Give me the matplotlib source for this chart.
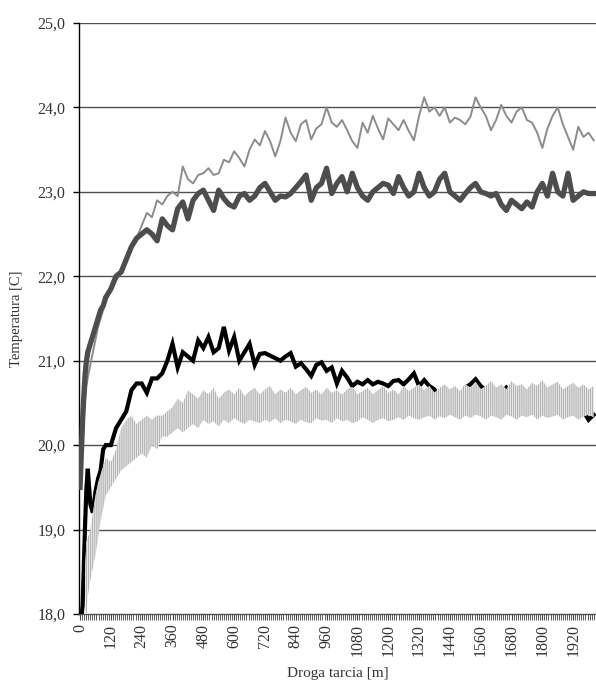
import numpy as np
import matplotlib
matplotlib.use('Agg')
import matplotlib.pyplot as plt
from matplotlib.ticker import FixedLocator, FuncFormatter

plt.rcParams['font.family'] = ['Liberation Serif', 'DejaVu Serif']
plt.rcParams['hatch.linewidth'] = 1.0

# droga tarcia [m]
droga = [0, 5, 10, 15, 20, 25, 30, 40, 50, 60, 70, 80, 90, 100,
         120, 140, 160, 180, 200, 220, 240, 260, 280, 300, 320, 340, 360, 380,
         400, 420, 440, 460, 480, 500, 520, 540, 560, 580, 600, 620, 640, 660,
         680, 700, 720, 740, 760, 780, 800, 820, 840, 860, 880, 900, 920, 940,
         960, 980, 1000, 1020, 1040, 1060, 1080, 1100, 1120, 1140, 1160, 1180,
         1200, 1220, 1240, 1260, 1280, 1300, 1320, 1340, 1360, 1380, 1400, 1420,
         1440, 1460, 1480, 1500, 1520, 1540, 1560, 1580, 1600, 1620, 1640, 1660,
         1680, 1700, 1720, 1740, 1760, 1780, 1800, 1820, 1840, 1860, 1880, 1900,
         1920, 1940, 1960, 1980, 2000]

# seria jasnoszara (najwyzsza)
temp_a = [19.5, 19.8, 20.1, 20.35, 20.55, 20.7, 20.8, 20.95, 21.1, 21.25, 21.4, 21.5, 21.6, 21.7,
          21.85, 21.95, 22.05, 22.2, 22.35, 22.45, 22.6, 22.75, 22.7, 22.9, 22.85, 22.95, 23.0, 22.95,
          23.3, 23.15, 23.1, 23.2, 23.22, 23.28, 23.2, 23.22, 23.38, 23.35, 23.48, 23.4, 23.3, 23.5,
          23.62, 23.55, 23.72, 23.6, 23.42, 23.6, 23.88, 23.7, 23.6, 23.8, 23.85, 23.62, 23.75, 23.8,
          24.0, 23.82, 23.77, 23.85, 23.73, 23.6, 23.52, 23.82, 23.7, 23.9, 23.75, 23.62,
          23.87, 23.8, 23.73, 23.85, 23.72, 23.61, 23.9, 24.12, 23.95, 24.0, 23.9, 24.0,
          23.82, 23.88, 23.85, 23.8, 23.89, 24.12, 24.0, 23.9, 23.73, 23.85, 24.03, 23.9,
          23.82, 23.95, 24.0, 23.85, 23.82, 23.7, 23.52, 23.75, 23.9, 24.0, 23.8, 23.65,
          23.5, 23.77, 23.65, 23.7, 23.61]

# seria ciemnoszara
temp_b = [19.5, 19.9, 20.3, 20.6, 20.85, 21.0, 21.1, 21.2, 21.3, 21.4, 21.5, 21.6, 21.65, 21.75,
          21.85, 22.0, 22.05, 22.2, 22.35, 22.45, 22.5, 22.55, 22.5, 22.42, 22.68, 22.6, 22.55, 22.8,
          22.88, 22.68, 22.9, 22.98, 23.02, 22.9, 22.78, 23.02, 22.92, 22.85, 22.82, 22.95, 22.98, 22.9,
          22.95, 23.05, 23.1, 23.0, 22.9, 22.95, 22.94, 22.98, 23.05, 23.12, 23.2, 22.9, 23.05, 23.1,
          23.28, 22.98, 23.1, 23.18, 23.0, 23.22, 23.05, 22.95, 22.9, 23.0, 23.05, 23.1,
          23.08, 22.98, 23.18, 23.05, 22.95, 23.0, 23.22, 23.05, 22.95, 23.0, 23.15, 23.22,
          23.0, 22.95, 22.9, 22.98, 23.05, 23.1, 23.0, 22.98, 22.95, 22.98, 22.85, 22.78,
          22.9, 22.85, 22.8, 22.88, 22.82, 23.0, 23.1, 22.95, 23.22, 23.0, 22.95, 23.22,
          22.9, 22.95, 23.0, 22.98, 22.98]

# seria czarna
temp_c = [17.9, 17.95, 18.1, 18.6, 19.1, 19.5, 19.72, 19.3, 19.2, 19.45, 19.6, 19.7, 19.95, 20.0,
          20.0, 20.2, 20.3, 20.4, 20.65, 20.73, 20.73, 20.62, 20.79, 20.79, 20.85, 21.0, 21.2, 20.92,
          21.1, 21.05, 21.0, 21.24, 21.15, 21.28, 21.1, 21.15, 21.4, 21.12, 21.28, 21.0, 21.1, 21.2,
          20.95, 21.08, 21.09, 21.06, 21.03, 21.0, 21.05, 21.09, 20.93, 20.97, 20.9, 20.82, 20.95, 20.98,
          20.88, 20.92, 20.73, 20.88, 20.8, 20.7, 20.75, 20.72, 20.77, 20.72, 20.75, 20.73,
          20.7, 20.76, 20.77, 20.72, 20.78, 20.85, 20.7, 20.77, 20.7, 20.66, 20.55, 20.5,
          20.45, 20.42, 20.55, 20.68, 20.72, 20.78, 20.7, 20.65, 20.55, 20.42, 20.6, 20.68,
          20.62, 20.65, 20.55, 20.5, 20.58, 20.52, 20.45, 20.5, 20.42, 20.44, 20.4, 20.4,
          20.38, 20.38, 20.4, 20.3, 20.36]

# seria najjasniejsza (pasmo) - dolna i gorna obwiednia
temp_d_min = [np.nan, np.nan, np.nan, np.nan, 17.95, 17.95, 18.2, 18.4, 18.55, 18.7, 18.9, 19.1, 19.25, 19.4,
              19.5, 19.6, 19.7, 19.75, 19.8, 19.85, 19.9, 19.85, 20.0, 19.95, 20.1, 20.1, 20.15, 20.2,
              20.15, 20.2, 20.25, 20.2, 20.3, 20.25, 20.28, 20.22, 20.3, 20.26, 20.32, 20.28, 20.25, 20.3,
              20.28, 20.26, 20.3, 20.27, 20.32, 20.26, 20.3, 20.28, 20.25, 20.3, 20.27, 20.26, 20.32, 20.29,
              20.3, 20.26, 20.32, 20.28, 20.3, 20.26, 20.28, 20.33, 20.3, 20.26, 20.3, 20.32,
              20.28, 20.3, 20.33, 20.3, 20.35, 20.32, 20.3, 20.33, 20.35, 20.3, 20.34, 20.32,
              20.36, 20.33, 20.3, 20.35, 20.32, 20.36, 20.34, 20.3, 20.35, 20.33, 20.3, 20.36,
              20.34, 20.3, 20.35, 20.33, 20.36, 20.3, 20.35, 20.32, 20.34, 20.36, 20.3, 20.33,
              20.35, 20.3, 20.34, 20.36, 20.33]
temp_d_max = [np.nan, np.nan, np.nan, np.nan, 18.6, 18.85, 18.9, 19.0, 19.2, 19.4, 19.55, 19.65, 19.75, 19.85,
              19.8, 19.95, 20.2, 20.3, 20.35, 20.25, 20.3, 20.35, 20.3, 20.35, 20.35, 20.4, 20.45, 20.55,
              20.5, 20.65, 20.6, 20.55, 20.65, 20.6, 20.68, 20.55, 20.62, 20.66, 20.6, 20.68, 20.58, 20.64,
              20.68, 20.6, 20.66, 20.7, 20.6, 20.66, 20.62, 20.68, 20.6, 20.65, 20.69, 20.62, 20.66, 20.6,
              20.68, 20.62, 20.65, 20.6, 20.66, 20.69, 20.6, 20.64, 20.68, 20.6, 20.65, 20.7,
              20.62, 20.66, 20.6, 20.7, 20.64, 20.68, 20.72, 20.65, 20.7, 20.62, 20.68, 20.72,
              20.66, 20.7, 20.64, 20.72, 20.68, 20.75, 20.66, 20.7, 20.76, 20.68, 20.72, 20.66,
              20.76, 20.7, 20.72, 20.66, 20.74, 20.7, 20.77, 20.68, 20.72, 20.75, 20.66, 20.7,
              20.74, 20.68, 20.72, 20.66, 20.7]

x_ticks = [0, 120, 240, 360, 480, 600, 720, 840, 960, 1080, 1200, 1320, 1440, 1560, 1680, 1800, 1920]
y_ticks = [18, 19, 20, 21, 22, 23, 24, 25]

fig = plt.figure(figsize=(5.96, 6.86), dpi=100)
ax = fig.add_axes([0.1326, 0.105, 0.8674, 0.8615])

ax.plot(droga, temp_a, color='#8c8c8c', lw=1.4, zorder=3)
ax.plot(droga, temp_b, color='#4d4d4d', lw=3.8, zorder=4)
ax.plot(droga, temp_c, color='black', lw=3.0, zorder=5, solid_joinstyle='miter')
ax.fill_between(droga, temp_d_min, temp_d_max, facecolor='white', edgecolor='#b4b4b4',
                hatch='||||||||', lw=0, zorder=6)

ax.set_xlim(-4, 2009)
ax.set_ylim(18, 25)

# siatka pozioma
for v in y_ticks[1:]:
    ax.axhline(v, color='#505050', lw=1.0, zorder=1)

for side in ['top', 'right']:
    ax.spines[side].set_visible(False)
ax.spines['left'].set_color('black')
ax.spines['left'].set_linewidth(1.0)
ax.spines['bottom'].set_color('#505050')
ax.spines['bottom'].set_linewidth(1.0)

ax.yaxis.set_major_locator(FixedLocator(y_ticks))
ax.yaxis.set_major_formatter(FuncFormatter(lambda v, p: f'{v:.1f}'.replace('.', ',')))
ax.xaxis.set_major_locator(FixedLocator(x_ticks))
ax.xaxis.set_minor_locator(FixedLocator(list(range(0, 2009, 8))))
ax.tick_params(axis='y', length=4, width=1.0, color='black', labelsize=11.5,
               labelcolor='#333333', pad=6)
ax.tick_params(axis='x', which='major', length=4, width=0.8, color='#404040',
               labelsize=11.5, labelcolor='#333333', labelrotation=90, pad=3)
ax.tick_params(axis='x', which='minor', length=4, width=0.6, color='#404040')

ax.set_xlabel('Droga tarcia [m]', fontsize=11, color='#333333', labelpad=8)
ax.set_ylabel('Temperatura [C]', fontsize=10.5, color='#333333', labelpad=10)

fig.savefig('out.png', dpi=100)
